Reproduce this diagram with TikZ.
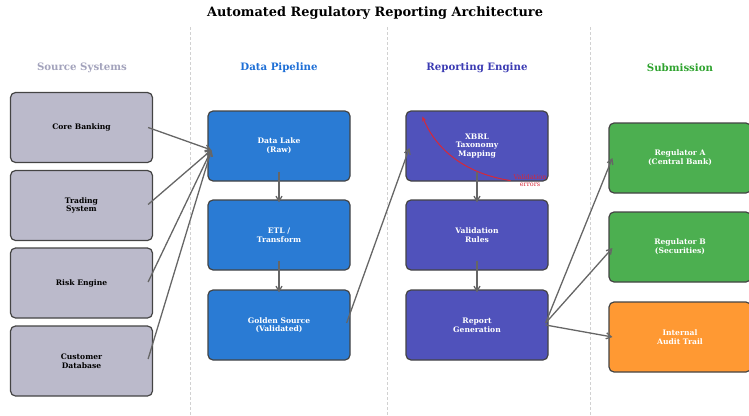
\documentclass[tikz,border=0pt]{standalone}
\usepackage{fontspec}
\setmainfont{DejaVu Serif}
\usetikzlibrary{arrows.meta,calc}

\definecolor{srcfill}{HTML}{BBBACB}
\definecolor{pipefill}{HTML}{2A7BD4}
\definecolor{engfill}{HTML}{5052BB}
\definecolor{subfill}{HTML}{4CAF50}
\definecolor{auditfill}{HTML}{FF9933}
\definecolor{boxline}{HTML}{444444}
\definecolor{arrowgray}{HTML}{666666}
\definecolor{hdrsrc}{HTML}{A3A3BC}
\definecolor{hdrpipe}{HTML}{1E6FD6}
\definecolor{hdreng}{HTML}{3B3BB3}
\definecolor{hdrsub}{HTML}{2FA32F}
\definecolor{errred}{HTML}{D62839}

\tikzset{
  card/.style={draw=boxline, line width=1.2pt, rounded corners=5pt,
    minimum width=142pt, minimum height=70pt, align=center,
    font=\bfseries\fontsize{7.6}{8.6}\selectfont, inner sep=2pt},
  srcbox/.style={card, fill=srcfill, text=black},
  pipebox/.style={card, fill=pipefill, text=white},
  engbox/.style={card, fill=engfill, text=white},
  subbox/.style={card, fill=subfill, text=white},
  auditbox/.style={card, fill=auditfill, text=white},
  header/.style={font=\bfseries\fontsize{10.2}{11}\selectfont},
  flow/.style={draw=arrowgray, line width=1.3pt, -{Straight Barb[length=5pt,width=6pt]}},
  divider/.style={draw=black!18, line width=0.6pt, dash pattern=on 3pt off 2pt},
}

\begin{document}
\begin{tikzpicture}[x=1pt,y=-1pt]
\useasboundingbox (0,0) rectangle (749,415);

% title
\node[font=\bfseries\fontsize{12.9}{14}\selectfont] (title) at (375,13) {Automated Regulatory Reporting Architecture};

% column dividers
\draw[divider] (190,27) -- (190,415);
\draw[divider] (387,27) -- (387,415);
\draw[divider] (590,27) -- (590,415);

% column headers
\node[header, text=hdrsrc]  (hsrc)  at (82,68)  {Source Systems};
\node[header, text=hdrpipe] (hpipe) at (279,68) {Data Pipeline};
\node[header, text=hdreng]  (heng)  at (477,68) {Reporting Engine};
\node[header, text=hdrsub]  (hsub)  at (680,68) {Submission};

% source systems
\node[srcbox] (cb)   at (81.5,127.5) {Core Banking};
\node[srcbox] (ts)   at (81.5,205.5) {Trading\\System};
\node[srcbox] (re)   at (81.5,283)   {Risk Engine};
\node[srcbox] (cdb)  at (81.5,361)   {Customer\\Database};

% data pipeline
\node[pipebox] (dl)  at (279,146) {Data Lake\\(Raw)};
\node[pipebox] (etl) at (279,235) {ETL /\\Transform};
\node[pipebox] (gs)  at (279,325) {Golden Source\\(Validated)};

% reporting engine
\node[engbox] (xb)  at (477,146) {XBRL\\Taxonomy\\Mapping};
\node[engbox] (val) at (477,235) {Validation\\Rules};
\node[engbox] (rg)  at (477,325) {Report\\Generation};

% submission targets
\node[subbox]   (ra) at (680,158) {Regulator A\\(Central Bank)};
\node[subbox]   (rb) at (680,247) {Regulator B\\(Securities)};
\node[auditbox] (at) at (680,337) {Internal\\Audit Trail};

% sources into the data lake
\coordinate (dlin) at ($(dl.west)+(4,4)$);
\draw[flow] ($(cb.east)+(-5,0)$)  -- (dlin);
\draw[flow] ($(ts.east)+(-5,-1)$) -- (dlin);
\draw[flow] ($(re.east)+(-5,-1)$) -- (dlin);
\draw[flow] ($(cdb.east)+(-5,-2)$) -- (dlin);

% pipeline stages
\draw[flow] ($(dl.south)+(0,-10)$)  -- ($(etl.north)+(0,3)$);
\draw[flow] ($(etl.south)+(0,-10)$) -- ($(gs.north)+(0,3)$);

% golden source to XBRL mapping
\draw[flow] ($(gs.east)+(-4,-2)$) -- ($(xb.west)+(4,2)$);

% reporting engine stages
\draw[flow] ($(xb.south)+(0,-10)$)  -- ($(val.north)+(0,3)$);
\draw[flow] ($(val.south)+(0,-10)$) -- ($(rg.north)+(0,3)$);

% submission
\coordinate (rgout) at ($(rg.east)+(-3,-2)$);
\draw[flow] (rgout) -- ($(ra.west)+(4,0)$);
\draw[flow] (rgout) -- ($(rb.west)+(4,1)$);
\draw[flow] ($(rg.east)+(-3,0)$) -- ($(at.west)+(4,0)$);

% validation feedback loop
\coordinate (fbstart) at ($(xb.south east)+(-38,-1)$);
\coordinate (fbend) at ($(xb.north west)+(17,6)$);
\draw[draw=errred, line width=1pt, -{Stealth[length=5pt,width=4pt]}]
  (fbstart) .. controls (455,172) and (432,140) .. (fbend);
\node[text=errred, font=\fontsize{6.5}{7.2}\selectfont, align=center, inner sep=0pt]
  (errlbl) at (530,180.5) {Validation\\errors};
\end{tikzpicture}
\end{document}
